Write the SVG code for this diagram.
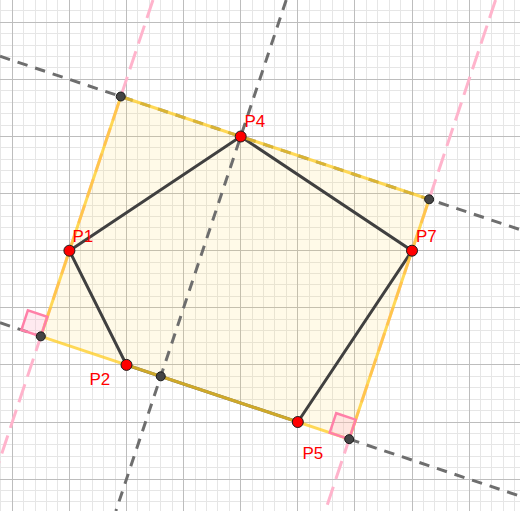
<svg xmlns="http://www.w3.org/2000/svg" width="520" height="511" viewBox="0 0 520 511">
<style>
.minor{stroke:#e6e6e6;stroke-width:1;fill:none;shape-rendering:crispEdges}
.major{stroke:#bdbdbd;stroke-width:1;fill:none;shape-rendering:crispEdges}
.gdash{stroke:#6e6e6e;stroke-width:3;fill:none;stroke-dasharray:10.5 8}
.pdash{stroke:#ffb4cc;stroke-width:3;fill:none;stroke-dasharray:19 8}
.edge{stroke:#404040;stroke-width:3;fill:none;stroke-linecap:round}
.rect{stroke:#ffcc22;stroke-width:3;fill:none;stroke-opacity:0.75}
.ra{stroke:#ff80a8;stroke-width:2.5;fill:#ffb8cc;fill-opacity:0.3}
.gp{fill:#444;stroke:#1a1a1a;stroke-width:1}
.rp{fill:#ff0000;stroke:#1a1a1a;stroke-width:1}
.lbl{font-family:"Liberation Sans",Arial,sans-serif;font-size:17px;fill:#ff0000}
</style>
<rect x="0" y="0" width="520" height="511" fill="#ffffff"/>
<g id="grid">
<path class="minor" d="M0.88 0V511M23.72 0V511M35.14 0V511M46.56 0V511M57.98 0V511M80.82 0V511M92.24 0V511M103.66 0V511M115.08 0V511M137.92 0V511M149.34 0V511M160.76 0V511M172.18 0V511M195.02 0V511M206.44 0V511M217.86 0V511M229.28 0V511M252.12 0V511M263.54 0V511M274.96 0V511M286.38 0V511M309.22 0V511M320.64 0V511M332.06 0V511M343.48 0V511M366.32 0V511M377.74 0V511M389.16 0V511M400.58 0V511M423.42 0V511M434.84 0V511M446.26 0V511M457.68 0V511M480.52 0V511M491.94 0V511M503.36 0V511M514.78 0V511M0 10.88H520M0 33.72H520M0 45.14H520M0 56.56H520M0 67.98H520M0 90.82H520M0 102.24H520M0 113.66H520M0 125.08H520M0 147.92H520M0 159.34H520M0 170.76H520M0 182.18H520M0 205.02H520M0 216.44H520M0 227.86H520M0 239.28H520M0 262.12H520M0 273.54H520M0 284.96H520M0 296.38H520M0 319.22H520M0 330.64H520M0 342.06H520M0 353.48H520M0 376.32H520M0 387.74H520M0 399.16H520M0 410.58H520M0 433.42H520M0 444.84H520M0 456.26H520M0 467.68H520M0 490.52H520M0 501.94H520"/>
<path class="major" d="M12.3 0V511M69.4 0V511M126.5 0V511M183.6 0V511M240.7 0V511M297.8 0V511M354.9 0V511M412 0V511M469.1 0V511M0 22.3H520M0 79.4H520M0 136.5H520M0 193.6H520M0 250.7H520M0 307.8H520M0 364.9H520M0 422H520M0 479.1H520"/>
</g>
<g id="rectangle-fill">
<polygon points="120.79,96.53 429.13,199.31 349.19,439.13 40.85,336.35" fill="#ffd54f" fill-opacity="0.13"/>
</g>
<g id="connectors">
<line class="pdash" x1="152.97" y1="0" x2="-17.37" y2="511"/>
<line class="pdash" x1="495.57" y1="0" x2="325.23" y2="511"/>
<line class="gdash" x1="0" y1="56.27" x2="520" y2="229.6"/>
<line class="gdash" x1="286.2" y1="0" x2="115.87" y2="511"/>
<line class="gdash" x1="0" y1="322.73" x2="40.85" y2="336.35"/>
<line class="gdash" x1="349.19" y1="439.13" x2="520" y2="496.07"/>
<path class="edge" d="M69.4 250.7L240.7 136.5L412 250.7L297.8 422L126.5 364.9Z"/>
<polygon class="rect" points="120.79,96.53 429.13,199.31 349.19,439.13 40.85,336.35"/>
<polygon class="ra" points="40.85,336.35 47.33,316.9 27.88,310.42 21.4,329.87"/>
<polygon class="ra" points="349.19,439.13 355.67,419.68 336.22,413.2 329.74,432.65"/>
</g>
<g id="corner-TL"><circle class="gp" cx="120.79" cy="96.53" r="4.5"/></g>
<g id="corner-TR"><circle class="gp" cx="429.13" cy="199.31" r="4.5"/></g>
<g id="corner-BL"><circle class="gp" cx="40.85" cy="336.35" r="4.5"/></g>
<g id="corner-BR"><circle class="gp" cx="349.19" cy="439.13" r="4.5"/></g>
<g id="foot"><circle class="gp" cx="160.76" cy="376.32" r="4.5"/></g>
<g id="P1"><circle class="rp" cx="69.4" cy="250.7" r="5.5"/><text class="lbl" x="72.5" y="242">P1</text></g>
<g id="P4"><circle class="rp" cx="240.7" cy="136.5" r="5.5"/><text class="lbl" x="244.5" y="127">P4</text></g>
<g id="P7"><circle class="rp" cx="412" cy="250.7" r="5.5"/><text class="lbl" x="416" y="241.5">P7</text></g>
<g id="P2"><circle class="rp" cx="126.5" cy="364.9" r="5.5"/><text class="lbl" x="89.5" y="385">P2</text></g>
<g id="P5"><circle class="rp" cx="297.8" cy="422" r="5.5"/><text class="lbl" x="302.5" y="459">P5</text></g>
</svg>
